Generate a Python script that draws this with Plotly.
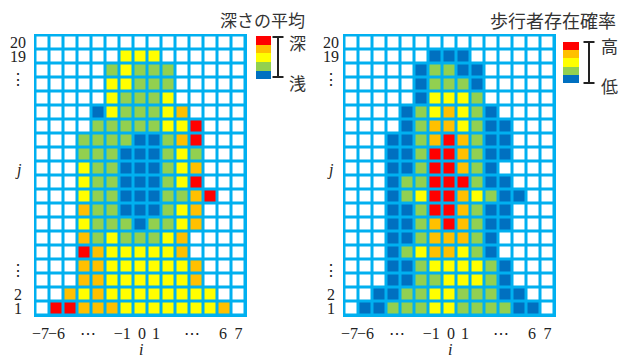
import plotly.graph_objects as go

W, H = 620, 358

# ---- data -------------------------------------------------------------
i_vals = list(range(-7, 8))          # 15 columns
j_vals = list(range(1, 21))          # 20 rows

# level codes: 0 = none, 1 = blue (low) ... 5 = red (high)
# rows listed from j = 20 (top) down to j = 1 (bottom)
depth_rows = [
    [0, 0, 0, 0, 0, 0, 0, 0, 0, 0, 0, 0, 0, 0, 0],
    [0, 0, 0, 0, 0, 0, 3, 3, 3, 0, 0, 0, 0, 0, 0],
    [0, 0, 0, 0, 0, 2, 3, 2, 2, 2, 0, 0, 0, 0, 0],
    [0, 0, 0, 0, 0, 3, 3, 2, 2, 2, 0, 0, 0, 0, 0],
    [0, 0, 0, 0, 0, 3, 2, 2, 2, 3, 0, 0, 0, 0, 0],
    [0, 0, 0, 0, 1, 3, 2, 2, 2, 3, 4, 0, 0, 0, 0],
    [0, 0, 0, 0, 2, 2, 2, 2, 2, 3, 3, 5, 0, 0, 0],
    [0, 0, 0, 2, 2, 2, 2, 1, 1, 2, 4, 5, 0, 0, 0],
    [0, 0, 0, 2, 2, 2, 1, 1, 1, 2, 3, 2, 0, 0, 0],
    [0, 0, 0, 3, 2, 2, 1, 1, 1, 2, 3, 4, 0, 0, 0],
    [0, 0, 0, 3, 2, 2, 1, 1, 1, 2, 3, 5, 0, 0, 0],
    [0, 0, 0, 3, 2, 2, 1, 1, 1, 2, 2, 4, 5, 0, 0],
    [0, 0, 0, 4, 2, 2, 1, 1, 1, 2, 3, 4, 0, 0, 0],
    [0, 0, 0, 3, 2, 2, 2, 1, 2, 2, 3, 4, 0, 0, 0],
    [0, 0, 0, 4, 2, 3, 2, 2, 2, 3, 4, 0, 0, 0, 0],
    [0, 0, 0, 5, 4, 3, 3, 3, 3, 3, 4, 0, 0, 0, 0],
    [0, 0, 0, 4, 4, 3, 3, 3, 3, 3, 3, 4, 0, 0, 0],
    [0, 0, 0, 4, 4, 3, 3, 3, 3, 3, 3, 4, 0, 0, 0],
    [0, 0, 4, 3, 4, 3, 3, 3, 3, 3, 3, 3, 3, 0, 0],
    [0, 5, 5, 4, 4, 4, 3, 3, 3, 3, 3, 3, 3, 4, 0],
]

prob_rows = [
    [0, 0, 0, 0, 0, 0, 0, 0, 0, 0, 0, 0, 0, 0, 0],
    [0, 0, 0, 0, 0, 0, 1, 1, 1, 0, 0, 0, 0, 0, 0],
    [0, 0, 0, 0, 0, 1, 2, 2, 1, 1, 0, 0, 0, 0, 0],
    [0, 0, 0, 0, 0, 1, 2, 2, 2, 1, 0, 0, 0, 0, 0],
    [0, 0, 0, 0, 0, 1, 3, 3, 3, 2, 0, 0, 0, 0, 0],
    [0, 0, 0, 0, 1, 2, 3, 4, 3, 2, 1, 0, 0, 0, 0],
    [0, 0, 0, 0, 1, 2, 4, 4, 3, 2, 1, 1, 0, 0, 0],
    [0, 0, 0, 1, 1, 2, 4, 5, 4, 2, 1, 1, 0, 0, 0],
    [0, 0, 0, 1, 1, 2, 5, 5, 4, 2, 1, 1, 0, 0, 0],
    [0, 0, 0, 1, 1, 2, 5, 5, 4, 2, 1, 0, 0, 0, 0],
    [0, 0, 0, 1, 2, 2, 5, 5, 5, 2, 1, 1, 0, 0, 0],
    [0, 0, 0, 1, 2, 3, 5, 5, 4, 3, 2, 1, 1, 0, 0],
    [0, 0, 0, 1, 1, 2, 5, 5, 4, 2, 1, 1, 0, 0, 0],
    [0, 0, 0, 1, 1, 2, 4, 5, 4, 2, 1, 1, 0, 0, 0],
    [0, 0, 0, 1, 1, 2, 4, 4, 4, 2, 1, 0, 0, 0, 0],
    [0, 0, 0, 1, 2, 3, 4, 4, 3, 2, 1, 0, 0, 0, 0],
    [0, 0, 0, 1, 1, 2, 3, 3, 3, 3, 2, 1, 0, 0, 0],
    [0, 0, 0, 1, 1, 2, 2, 3, 3, 3, 2, 1, 0, 0, 0],
    [0, 0, 1, 1, 2, 2, 3, 3, 2, 2, 2, 1, 1, 0, 0],
    [0, 1, 1, 2, 2, 2, 3, 3, 2, 2, 2, 2, 1, 1, 0],
]

level_colors = ["#FFFFFF", "#0070C0", "#92D050", "#FFFF00", "#FFC000", "#FF0000"]
grid_color = "#00B0F0"

xtick_vals = [-7.15, -6.0, -3.73, -1.3, 0.1, 1.1, 3.66, 5.9, 7.0]
xtick_text = ["−7", "−6", "⋯", "−1", "0", "1", "⋯", "6", "7"]
ytick_vals = [20, 19, 17.35, 10.9, 3.75, 2, 1]
ytick_text = ["20", "19", "⋮", "<i>j</i>", "⋮", "2", "1"]

titles = ["深さの平均", "歩行者存在確率"]
legend_hi = ["深", "高"]
legend_lo = ["浅", "低"]

# ---- styling / layout geometry (pixels) ------------------------------
SERIF = "Liberation Serif, DejaVu Serif, serif"
CJK = "Noto Sans CJK JP, Noto Sans CJK SC, sans-serif"
PITCH, GAP = 14, 3
GRID_W, GRID_H = 15 * PITCH + GAP, 20 * PITCH + GAP
GRID_TOP = 34
panels = [
    dict(left=34, lab_off=16, title_right=307, title_y=19.5, title_size=17,
         bar_left=256, bar_top=36, bar_h=43, bar_w=15, ibar_x=278,
         ibar_y=(37, 77), txt_x=297.5, hi_y=42.5, lo_y=82),
    dict(left=343, lab_off=12, title_right=618, title_y=20, title_size=18,
         bar_left=563, bar_top=42, bar_h=41, bar_w=16, ibar_x=589,
         ibar_y=(42, 83), txt_x=609.5, hi_y=45, lo_y=85),
]


def px(x):
    return x / W


def py(y):
    return 1 - y / H


n = len(level_colors)
colorscale = []
for k, c in enumerate(level_colors):
    colorscale.append([k / n, c])
    colorscale.append([(k + 1) / n, c])

fig = go.Figure()
shapes, annotations = [], []
pad = (GAP / 2) / PITCH

for idx, (rows, p) in enumerate(zip([depth_rows, prob_rows], panels)):
    xa = "x" if idx == 0 else "x2"
    ya = "y" if idx == 0 else "y2"
    z = rows[::-1]
    fig.add_trace(go.Heatmap(
        x=i_vals, y=j_vals, z=z, xaxis=xa, yaxis=ya,
        zmin=-0.5, zmax=n - 0.5, colorscale=colorscale,
        xgap=GAP, ygap=GAP, hoverinfo="skip",
        showscale=True,
        colorbar=dict(
            x=px(p["bar_left"]), xanchor="left",
            y=py(p["bar_top"]), yanchor="top",
            len=p["bar_h"] * n / (n - 1), lenmode="pixels",
            thickness=p["bar_w"], thicknessmode="pixels",
            outlinewidth=0, showticklabels=False, ticks="",
            xpad=0, ypad=0, bgcolor="rgba(0,0,0,0)",
        ),
    ))
    dom_x = [px(p["left"]), px(p["left"] + GRID_W)]
    dom_y = [py(GRID_TOP + GRID_H), py(GRID_TOP)]
    axx = dict(domain=dom_x, range=[-7.5 - pad, 7.5 + pad], showgrid=False,
               zeroline=False, showline=False, tickmode="array",
               tickvals=xtick_vals, ticktext=xtick_text, tickangle=0,
               tickfont=dict(family=SERIF, size=16, color="#222"),
               ticks="outside", ticklen=2, tickcolor="rgba(0,0,0,0)",
               anchor=ya, fixedrange=True)
    axy = dict(domain=dom_y, range=[0.5 - pad, 20.5 + pad], showgrid=False,
               zeroline=False, showline=False, showticklabels=False,
               ticks="", anchor=xa, fixedrange=True)
    if idx == 0:
        fig.update_layout(xaxis=axx, yaxis=axy)
    else:
        fig.update_layout(xaxis2=axx, yaxis2=axy)

    # y tick labels (centered, as in reference)
    for v, t in zip(ytick_vals, ytick_text):
        annotations.append(dict(
            x=px(p["left"] - p["lab_off"]), xref="paper", y=v, yref=ya,
            text=t, showarrow=False, xanchor="center", yanchor="middle",
            font=dict(family=SERIF, size=16, color="#222")))
    # x axis title
    annotations.append(dict(
        x=0, xref=xa, y=py(349.5), yref="paper", text="<i>i</i>",
        showarrow=False, xanchor="center", yanchor="middle",
        font=dict(family=SERIF, size=16, color="#222")))
    # panel title
    annotations.append(dict(
        x=px(p["title_right"]), xref="paper", y=py(p["title_y"]), yref="paper",
        text=titles[idx], showarrow=False, xanchor="right", yanchor="middle",
        font=dict(family=CJK, size=p["title_size"], color="#333")))
    # legend hi/lo labels
    for t, yy in [(legend_hi[idx], p["hi_y"]), (legend_lo[idx], p["lo_y"])]:
        annotations.append(dict(
            x=px(p["txt_x"]), xref="paper", y=py(yy), yref="paper", text=t,
            showarrow=False, xanchor="center", yanchor="middle",
            font=dict(family=CJK, size=17, color="#333")))
    # I-bar of legend
    bx = p["ibar_x"]
    y0, y1 = p["ibar_y"]
    line = dict(color="#222", width=2)
    shapes.append(dict(type="line", xref="paper", yref="paper",
                       x0=px(bx), x1=px(bx), y0=py(y0), y1=py(y1), line=line))
    for yy in (y0, y1):
        shapes.append(dict(type="line", xref="paper", yref="paper",
                           x0=px(bx - 5.5), x1=px(bx + 5.5), y0=py(yy), y1=py(yy),
                           line=line))

fig.update_layout(
    width=W, height=H,
    margin=dict(l=0, r=0, t=0, b=0, autoexpand=False),
    paper_bgcolor="white", plot_bgcolor=grid_color,
    shapes=shapes, annotations=annotations, showlegend=False,
)

fig.write_html(
    "out.html",
    config={"displayModeBar": False, "staticPlot": True},
    post_script="document.body.style.margin='0';document.body.style.overflow='hidden';",
)
